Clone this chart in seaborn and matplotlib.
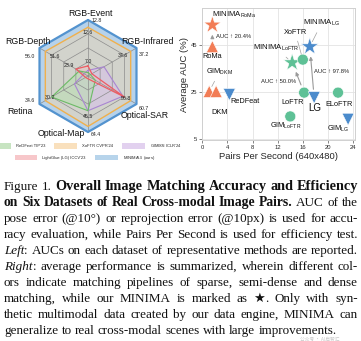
import numpy as np
import pandas as pd
import matplotlib
matplotlib.use("Agg")
import matplotlib.pyplot as plt
import seaborn as sns
from matplotlib.patches import Patch

# ---------------- radar data ----------------
datasets = ["RGB-Event", "RGB-Infrared", "Optical-SAR", "Optical-Map", "Retina", "RGB-Depth"]
radar_methods = ["ReDFeat", "XoFTR", "GIM_DKM", "LightGlue", "MINIMA_LG"]
# normalized score of each method on each dataset axis (outer ring = 1)
redfeat_score = [0.06, 0.05, 0.15, 0.62, 0.75, 0.18]
xoftr_score = [0.87, 0.88, 0.88, 0.90, 0.88, 0.88]
gimdkm_score = [0.10, 0.33, 0.72, 0.62, 0.28, 0.08]
lightglue_score = [0.18, 0.08, 0.75, 0.05, 0.05, 0.25]
minima_score = [1.0, 1.0, 1.0, 1.0, 1.0, 1.0]
# AUC values printed on the axes
outer_auc = ["12.8", "37.2", "60.7", "64.4", "34.6", "56.0"]
inner_auc = [["12.6", "7.0"], ["34.6"], ["56.8"], ["45.5"], ["30.2"], ["51.6", "23.9"]]
inner_auc_r = [[0.78, 0.26], [0.72], [0.79], [0.73], [0.78], [0.68, 0.39]]
legend_row1 = ["ReDFeat TIP'23", "XoFTR CVPR'24", "GIM$_\\mathrm{DKM}$ ICLR'24"]
legend_row2 = ["LightGlue (LG) ICCV'23", "MINIMA$_\\mathrm{LG}$ (ours)"]

# ---------------- scatter data ----------------
scatter_methods = ["MINIMA_RoMa", "RoMa", "GIM_DKM", "DKM", "ReDFeat", "MINIMA_LoFTR",
                   "XoFTR", "MINIMA_LG", "LoFTR", "LG", "ELoFTR", "GIM_LoFTR", "GIM_LG"]
pairs_per_second = [1.6, 1.6, 1.1, 2.2, 4.3, 14.3, 16.0, 17.1, 16.2, 17.8, 21.6, 14.0, 23.2]
average_auc = [53.4, 44.2, 25.2, 25.2, 23.9, 37.4, 38.7, 44.2, 24.7, 22.6, 24.7, 14.6, 13.4]
pipeline = ["dense", "dense", "dense", "dense", "sparse", "semi-dense",
            "semi-dense", "sparse", "semi-dense", "sparse", "semi-dense", "semi-dense", "sparse"]
is_ours = [True, False, False, False, False, True, False, True, False, False, False, False, False]
improvements = [("RoMa", "MINIMA_RoMa", "AUC \u2191 20.4%"),
                ("LoFTR", "MINIMA_LoFTR", "AUC \u2191 50.0%"),
                ("LG", "MINIMA_LG", "AUC \u2191 97.8%")]

# ---------------- style ----------------
sns.set_theme(style="whitegrid")
plt.rcParams["font.family"] = ["Liberation Sans", "DejaVu Sans"]
plt.rcParams["mathtext.fontset"] = "custom"
plt.rcParams["mathtext.rm"] = "Liberation Sans"
plt.rcParams["mathtext.it"] = "Liberation Sans:italic"
plt.rcParams["mathtext.bf"] = "Liberation Sans:bold"

W, H = 361, 341
fig = plt.figure(figsize=(W / 100, H / 100), dpi=100)
fig.patch.set_facecolor("white")

def fx(px):
    return px / W

def fy(py):
    return 1 - py / H

# ================= radar (left) =================
cx, cy, R = 88, 76, 56
ax_r = fig.add_axes([0, fy(170), fx(178), 170 / H])
ax_r.set_xlim((0 - cx) / R, (178 - cx) / R)
ax_r.set_ylim((cy - 170) / R, cy / R)
ax_r.axis("off")

angles = np.deg2rad([90, 30, -30, -90, -150, 150])
ux, uy = np.cos(angles), np.sin(angles)

def poly(vals):
    v = np.asarray(vals)
    x = v * ux
    y = v * uy
    return np.append(x, x[0]), np.append(y, y[0])

# grid rings and spokes
for ring in [0.25, 0.5, 0.75, 1.0]:
    gx, gy = poly([ring] * 6)
    ax_r.plot(gx, gy, color="#8c8c8c", lw=0.5, zorder=1)
for a in range(6):
    ax_r.plot([0, ux[a]], [0, uy[a]], color="#8c8c8c", lw=0.5, zorder=1)

radar_style = [
    (minima_score, "#a9cbe8", "#5393cf", 0.85, 1.6),
    (xoftr_score, "#f6d6a8", "#f0b04c", 0.45, 1.0),
    (gimdkm_score, "#d6c0ea", "#a985d2", 0.55, 0.8),
    (redfeat_score, "#b9dfb2", "#6cbb66", 0.55, 0.8),
    (lightglue_score, "#f5b8bb", "#ec5d64", 0.35, 0.9),
]
for z, (vals, fc, ec, al, lw) in enumerate(radar_style):
    px_, py_ = poly(vals)
    ax_r.fill(px_, py_, color=fc, alpha=al, zorder=0.5 + z * 0.01, lw=0)
    ax_r.plot(px_, py_, color=ec, lw=lw, zorder=2 + z * 0.01)

# axis names (layout positions in px)
name_pos = [(90, 13, "center"), (147, 42, "center"), (145, 115, "center"),
            (85, 134, "right"), (20, 112, "center"), (28, 42, "center")]
for name, (px, py, ha) in zip(datasets, name_pos):
    ax_r.text((px - cx) / R, (cy - py) / R, name, fontsize=6.3, ha=ha, va="center",
              color="#111111", zorder=5)

# outer labels
outer_pos = [(92, 21, "left"), (139, 55, "left"), (139, 108, "left"),
             (91, 134, "left"), (35, 101, "right"), (35, 57, "right")]
for lab, (px, py, ha) in zip(outer_auc, outer_pos):
    ax_r.text((px - cx) / R, (cy - py) / R, lab, fontsize=3.8, ha=ha, va="center",
              color="#222222", zorder=5)
# inner labels
for a in range(6):
    for lab, rr in zip(inner_auc[a], inner_auc_r[a]):
        ax_r.text(rr * ux[a], rr * uy[a], lab, fontsize=3.8, ha="center", va="center",
                  color="#222222", zorder=5)

leg_fc = ["#c7e4c1", "#f9e0bd", "#e2d1ef", "#f7c7ca", "#b7d4eb"]
h1 = [Patch(facecolor=c, edgecolor="none") for c in leg_fc[:3]]
h2 = [Patch(facecolor=c, edgecolor="none") for c in leg_fc[3:]]
common = dict(loc="center", frameon=False, fontsize=3.0, handlelength=5.5,
              handleheight=1.6, columnspacing=2.2, handletextpad=1.2, borderpad=0)
fig.legend(h1, legend_row1, ncol=3, bbox_to_anchor=(fx(85), fy(146)), **common)
fig.legend(h2, legend_row2, ncol=2, bbox_to_anchor=(fx(85), fy(158)), **common)

# ================= scatter (right) =================
ax_s = fig.add_axes([fx(202), fy(140), fx(355) - fx(202), fy(8) - fy(140)])
df = pd.DataFrame({"method": scatter_methods, "pps": pairs_per_second,
                   "auc": average_auc, "pipeline": pipeline,
                   "shape": [("ours" if o else p) for o, p in zip(is_ours, pipeline)]})
palette = {"dense": "#f27d56", "semi-dense": "#5ec196", "sparse": "#4b8bcc"}
markers = {"dense": "^", "semi-dense": "o", "sparse": "v", "ours": "*"}
sizes = {"dense": 75, "semi-dense": 62, "sparse": 75, "ours": 170}
sns.scatterplot(data=df, x="pps", y="auc", hue="pipeline", style="shape", size="shape",
                markers=markers, sizes=sizes, palette=palette, legend=False,
                edgecolor="white", linewidth=0.4, ax=ax_s, zorder=3)
ax_s.set_xlim(-0.05, 24.3)
ax_s.set_ylim(4.6, 60.6)
ax_s.set_xticks([0, 4, 8, 12, 16, 20, 24])
ax_s.set_yticks([5, 25, 45])
ax_s.tick_params(labelsize=4.2, length=2, width=0.5, pad=1.5, color="#555555")
ax_s.tick_params(axis="both", which="both", bottom=True, left=True)
ax_s.grid(True, color="#e3e3e3", lw=0.6)
for sp in ax_s.spines.values():
    sp.set_color("#d0d0d0")
    sp.set_linewidth(0.7)
ax_s.set_xlabel("Pairs Per Second (640x480)", fontsize=6.8, labelpad=1.5)
ax_s.set_ylabel("Average AUC (%)", fontsize=6.8, labelpad=1.5)

pt = {m: (x, y) for m, x, y in zip(scatter_methods, pairs_per_second, average_auc)}
lead = dict(arrowstyle="-", color="#a0a0a0", lw=0.5, shrinkA=1, shrinkB=4)
labels = [
    ("MINIMA_RoMa", "MINIMA$_\\mathrm{RoMa}$", (1.6, 57.7), "left", 5.6, False),
    ("RoMa", "RoMa", (1.6, 40.0), "center", 5.3, False),
    ("GIM_DKM", "GIM$_\\mathrm{DKM}$", (0.6, 33.6), "left", 5.3, True),
    ("DKM", "DKM", (2.7, 16.3), "center", 5.3, False),
    ("ReDFeat", "ReDFeat", (4.4, 21.1), "left", 5.3, False),
    ("MINIMA_LoFTR", "MINIMA$_\\mathrm{LoFTR}$", (11.7, 43.7), "center", 5.6, True),
    ("XoFTR", "XoFTR", (14.8, 50.0), "center", 5.3, True),
    ("MINIMA_LG", "MINIMA$_\\mathrm{LG}$", (19.0, 54.2), "center", 5.6, True),
    ("LoFTR", "LoFTR", (14.4, 20.4), "center", 5.3, False),
    ("LG", "LG", (17.9, 18.3), "center", 7.0, False),
    ("ELoFTR", "ELoFTR", (21.8, 19.7), "center", 5.3, False),
    ("GIM_LoFTR", "GIM$_\\mathrm{LoFTR}$", (13.2, 10.5), "center", 5.3, False),
    ("GIM_LG", "GIM$_\\mathrm{LG}$", (21.6, 9.4), "center", 5.3, False),
]
for m, txt, pos, ha, fs, has_line in labels:
    if has_line:
        ax_s.annotate(txt, xy=pt[m], xytext=pos, fontsize=fs, ha=ha, va="center",
                      arrowprops=lead, zorder=4, color="#111111")
    else:
        ax_s.text(pos[0], pos[1], txt, fontsize=fs, ha=ha, va="center", zorder=4,
                  color="#111111")

imp_text_pos = [(2.1, 48.4, "left"), (12.1, 29.5, "center"), (20.6, 33.7, "center")]
for (base, ours, txt), (tx, ty, ha) in zip(improvements, imp_text_pos):
    ax_s.annotate("", xy=pt[ours], xytext=pt[base],
                  arrowprops=dict(arrowstyle="-|>", color="#9a9a9a", lw=0.8,
                                  mutation_scale=5, shrinkA=6, shrinkB=7), zorder=2)
    ax_s.text(tx, ty, txt, fontsize=4.2, ha=ha, va="center", color="#222222",
              family=["Liberation Sans", "DejaVu Sans"])

# ================= caption =================
cap_lines = [
    [("Figure 1.", "n"), ("  Overall Image Matching Accuracy and Efficiency", "b")],
    [("on Six Datasets of Real Cross-modal Image Pairs.", "b"), (" AUC of the", "n")],
    [("pose error (@10\u00b0) or reprojection error (@10px) is used for accu-", "n")],
    [("racy evaluation, while Pairs Per Second is used for efficiency test.", "n")],
    [("Left", "i"), (": AUCs on each dataset of representative methods are reported.", "n")],
    [("Right", "i"), (": average performance is summarized, wherein different col-", "n")],
    [("ors indicate matching pipelines of sparse, semi-dense and dense", "n")],
    [("matching, while our MINIMA is marked as ", "n"), ("\u2605", "s"), (".  Only with syn-", "n")],
    [("thetic multimodal data created by our data engine, MINIMA can", "n")],
    [("generalize to real cross-modal scenes with large improvements.", "n")],
]
renderer = fig.canvas.get_renderer()
serif = ["Liberation Serif", "DejaVu Serif"]
left_px, right_px = 4, 358
target = right_px - left_px


def split_words(segs):
    words = []
    prev_space = True
    for text, st in segs:
        parts = text.split(" ")
        for k, p in enumerate(parts):
            if k == 0 and words and not prev_space:
                if p:
                    words[-1].append((p, st))
            elif p:
                words.append([(p, st)])
        prev_space = text.endswith(" ")
    return words


def make_text(p, st, fs, y):
    kw = dict(fontsize=fs, color="#111111", va="baseline", ha="left")
    if st == "b":
        kw["fontweight"] = "bold"
    if st == "i":
        kw["fontstyle"] = "italic"
    fam = ["DejaVu Sans"] if st == "s" else serif
    return fig.text(0, y, p, family=fam, **kw)


def measure(p, st, fs):
    t = make_text(p, st, fs, 0.5)
    w = t.get_window_extent(renderer).width
    t.remove()
    return w


def space_w(fs):
    return fs * 100 / 72 * 0.25


# choose the font size so that the plain justified lines have normal word spacing
base_fs = 8.4
scales = []
for segs in cap_lines[2:-1]:
    words = split_words(segs)
    tot = sum(measure(p, st, base_fs) for w in words for p, st in w)
    nat = tot + (len(words) - 1) * space_w(base_fs)
    scales.append(target / nat)
cap_fs = base_fs * min(scales) * 0.995

for i, segs in enumerate(cap_lines):
    words = split_words(segs)
    # widen bold runs slightly if the line would otherwise be very loose
    bold_w = sum(measure(p, st, cap_fs) for w in words for p, st in w if st == "b")
    other_w = sum(measure(p, st, cap_fs) for w in words for p, st in w if st != "b")
    bold_fs = cap_fs
    if bold_w > 0:
        k = (target - other_w - (len(words) - 1) * space_w(cap_fs) * 1.1) / bold_w
        bold_fs = cap_fs * min(max(k, 1.0), 1.12)
    baseline = 190.5 + i * 15.9
    objs = []
    total = 0.0
    for w in words:
        wo = []
        for p, st in w:
            t = make_text(p, st, bold_fs if st == "b" else cap_fs, fy(baseline))
            wd = t.get_window_extent(renderer).width
            wo.append((t, wd))
            total += wd
        objs.append(wo)
    n = len(objs)
    if i < len(cap_lines) - 1 and n > 1:
        gap = (target - total) / (n - 1)
    else:
        gap = space_w(cap_fs)
    x = left_px
    for wo in objs:
        for t, wd in wo:
            t.set_x(fx(x))
            x += wd
        x += gap

fig.text(fx(300), fy(339.6), "\u516c\u4f17\u53f7 \u00b7 AI\u542f\u667a\u6c47", fontsize=3.4,
         family=["Noto Sans CJK SC", "DejaVu Sans"], color="#9a9a9a", alpha=0.55,
         va="center", ha="left")

fig.savefig("out.png", dpi=100)
